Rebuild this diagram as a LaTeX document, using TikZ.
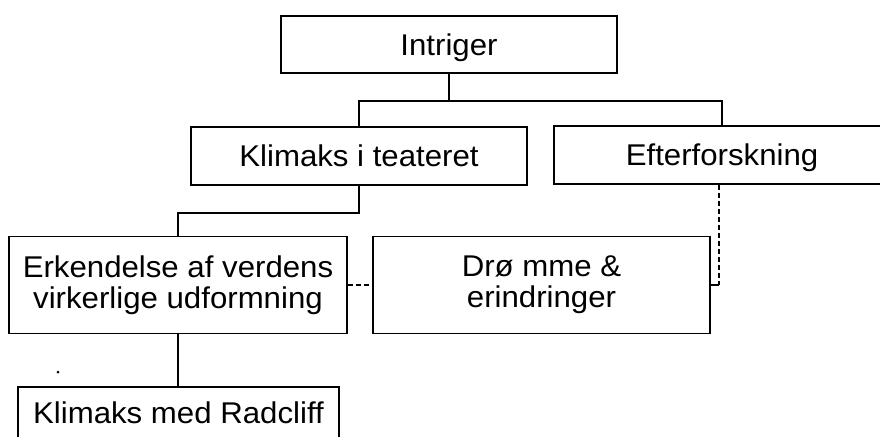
\documentclass[tikz,border=0pt]{standalone}
\usepackage{fontspec}
\setmainfont[FakeStretch=1.04]{Liberation Sans}
\begin{document}
\begin{tikzpicture}[x=1pt,y=-1pt,
  box/.style={draw,line width=1.5pt,inner sep=0pt,align=center,
    font=\fontsize{30}{31}\selectfont},
  oneline/.style={text height=21.5pt,text depth=0pt},
  conn/.style={line width=1.5pt},
  dconn/.style={line width=1.5pt,dash pattern=on 5pt off 3pt}]
\useasboundingbox (0,0) rectangle (880,436);
\clip (0,0) rectangle (880,436);
\node[box,oneline,minimum width=336pt,minimum height=57pt] (intr) at (449,44.5) {Intriger};
\node[box,oneline,minimum width=336pt,minimum height=58pt] (klim) at (359,156) {Klimaks i teateret};
\node[box,oneline,minimum width=336pt,minimum height=58pt] (efter) at (722,155) {Efterforskning};
\node[box,minimum width=338pt,minimum height=97pt] (erk) at (178,285) {Erkendelse af verdens\\virkerlige udformning};
\node[box,minimum width=337pt,minimum height=97pt] (drom) at (541.5,285) {Drø mme \&\\erindringer};
\node[box,oneline,minimum width=321pt,minimum height=51pt] (radc) at (178.5,412.5) {Klimaks med Radcliff};
\draw[conn] (intr.south) -- ++(0,27) -| (klim.north);
\draw[conn] (intr.south) -- ++(0,27) -| (efter.north);
\draw[conn] (klim.south) -- ++(0,27) -| (erk.north);
\draw[conn] (erk.south) -- (erk.south |- radc.north);
\draw[dconn] (erk.east) -- (drom.west);
\coordinate (eb) at ([xshift=-3pt]efter.south);
\coordinate (ecorner) at (eb |- drom.east);
\draw[dconn] (eb) -- (ecorner);
\draw[conn] (ecorner) -- (drom.east);
\fill (58,372) circle (1.5pt);
\end{tikzpicture}
\end{document}
